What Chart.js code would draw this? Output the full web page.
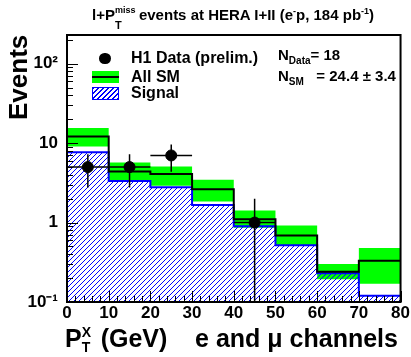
<!DOCTYPE html>
<html>
<head>
<meta charset="utf-8">
<script src="https://cdn.jsdelivr.net/npm/chart.js@4.4.1/dist/chart.umd.min.js"></script>
<style>
  body { margin: 0; background: #fff; }
  #wrap { position: relative; width: 411px; height: 357px; overflow: hidden; font-family: "Liberation Sans", Arial, Helvetica, sans-serif; font-weight: bold; color: #000; }
  #wrap canvas { position: absolute; left: 0; top: 0; }
  .t { position: absolute; white-space: nowrap; line-height: 1; }
  .st { position: relative; display: inline-block; height: 0; }
  .st span { position: absolute; left: 0; line-height: 1; }
  sup, sub { line-height: 0; }
</style>
</head>
<body>
<div id="wrap">
  <canvas id="chart" width="411" height="357"></canvas>

  <div class="t" style="left:92px; top:6.5px; font-size:15px;">l+P<span class="st" style="width:24px;"><span style="font-size:9px; top:-13.5px;">miss</span><span style="font-size:11px; top:0.5px;">T</span></span>events at HERA I+II (e<sup style="font-size:9px;">-</sup>p, 184 pb<sup style="font-size:9px;">-1</sup>)</div>

  <div class="t" style="left:5px; top:120px; font-size:26px; transform-origin:left top; transform:rotate(-90deg);">Events</div>

  <div class="t" style="left:65px; top:325.8px; font-size:25px;">P<span class="st" style="width:12px;"><span style="font-size:14px; top:-22px;">X</span><span style="font-size:14px; top:-6.8px;">T</span></span> (GeV) &nbsp;&nbsp;&nbsp;e and μ channels</div>

  <!-- legend -->
  <div style="position:absolute; left:99.3px; top:52.6px; width:11.4px; height:11.4px; border-radius:50%; background:#000;"></div>
  <div style="position:absolute; left:92px; top:71px; width:27px; height:12px; background:#00ff00;"><div style="position:absolute; left:0; top:5px; width:27px; height:2px; background:#000;"></div></div>
  <div style="position:absolute; left:92px; top:87px; width:25px; height:11px; border:1px solid #0000ff; background:repeating-linear-gradient(135deg, #0000ff 0 1px, transparent 1px 3.5px);"></div>
  <div class="t" style="left:131px; top:50.2px; font-size:16px;">H1 Data (prelim.)</div>
  <div class="t" style="left:131px; top:68.8px; font-size:16px;">All SM</div>
  <div class="t" style="left:131px; top:84.8px; font-size:16px;">Signal</div>

  <!-- numbers -->
  <div class="t" style="left:278px; top:47.3px; font-size:15px;">N<sub style="font-size:10px;">Data</sub>= 18</div>
  <div class="t" style="left:278px; top:68.1px; font-size:15px;">N<sub style="font-size:10px;">SM</sub>&nbsp;&nbsp; = 24.4 ± 3.4</div>
</div>

<script>
// bin edges in GeV, and per-bin contents
const binEdges = [0, 10, 20, 30, 40, 50, 60, 70, 80];
const smValues = [12.1, 4.4, 4.1, 2.63, 1.1, 0.69, 0.24, 0.33];
const smUpper = [15.5, 5.7, 5.07, 3.45, 1.42, 0.92, 0.30, 0.48];
const smLower = [9.06, 3.35, 2.9, 1.84, 0.86, 0.51, 0.194, 0.17];
const signalValues = [7.7, 3.35, 2.79, 1.67, 0.9, 0.52, 0.23, 0.12];
const dataCenters = [5, 15, 25, 45];
const dataCounts = [5, 5, 7, 1];
const binHalfWidth = 5;
const xTickLabels = [0, 10, 20, 30, 40, 50, 60, 70, 80];
const yTickLabels = { "0.1": "10\u207B\u00B9", "1": "1", "10": "10", "100": "10\u00B2" };

const FONT = "'Liberation Sans', Arial, Helvetica, sans-serif";
const canvas = document.getElementById("chart");
const ctx = canvas.getContext("2d");

// step-histogram points: one point per left edge, plus the last right edge
function histPoints(vals) {
  return binEdges.map((x, i) => ({ x: x, y: vals[Math.min(i, vals.length - 1)] }));
}

function makeHatch() {
  const s = 5;
  const c = document.createElement("canvas");
  c.width = s; c.height = s;
  const g = c.getContext("2d");
  g.strokeStyle = "#0000ff";
  g.lineWidth = 1;
  g.beginPath();
  g.moveTo(0, s); g.lineTo(s, 0);
  g.moveTo(-1, 1); g.lineTo(1, -1);
  g.moveTo(s - 1, s + 1); g.lineTo(s + 1, s - 1);
  g.stroke();
  return ctx.createPattern(c, "repeat");
}

// vertical and horizontal error bars under the data points
const errorBars = {
  id: "errorBars",
  beforeDatasetDraw(chart, args) {
    if (args.index !== 0) return;
    const xs = chart.scales.x, ys = chart.scales.y, a = chart.chartArea;
    const c = chart.ctx;
    c.save();
    c.beginPath();
    c.rect(a.left, a.top, a.right - a.left, a.bottom - a.top);
    c.clip();
    c.strokeStyle = "#000";
    c.lineWidth = 1.5;
    dataCenters.forEach((x, i) => {
      const n = dataCounts[i];
      const e = Math.sqrt(n);
      const px = xs.getPixelForValue(x);
      const py = ys.getPixelForValue(n);
      const top = ys.getPixelForValue(n + e);
      const bot = n - e > 0 ? ys.getPixelForValue(n - e) : a.bottom;
      c.beginPath();
      c.moveTo(px, top); c.lineTo(px, bot);
      c.moveTo(xs.getPixelForValue(x - binHalfWidth), py);
      c.lineTo(xs.getPixelForValue(x + binHalfWidth), py);
      c.stroke();
    });
    c.restore();
  }
};

// ROOT-style frame with inward ticks
const frameTicks = {
  id: "frameTicks",
  afterDatasetsDraw(chart) {
    const xs = chart.scales.x, ys = chart.scales.y, a = chart.chartArea;
    const c = chart.ctx;
    c.save();
    c.strokeStyle = "#000";
    c.lineWidth = 1;
    c.beginPath();
    for (let d = -1; d <= 2; d++) {
      for (let m = 1; m <= 9; m++) {
        const v = m * Math.pow(10, d);
        if (v < ys.min || v > ys.max) continue;
        const y = Math.round(ys.getPixelForValue(v)) + 0.5;
        c.moveTo(a.left, y);
        c.lineTo(a.left + (m === 1 ? 11 : 6), y);
      }
    }
    for (let x = 0; x <= 80; x += 2) {
      const px = Math.round(xs.getPixelForValue(x)) + 0.5;
      c.moveTo(px, a.bottom);
      c.lineTo(px, a.bottom - (x % 10 === 0 ? 11 : 6));
    }
    c.stroke();
    c.lineWidth = 2;
    c.strokeRect(a.left, a.top, a.right - a.left, a.bottom - a.top);
    c.restore();
  }
};

new Chart(ctx, {
  type: "line",
  data: {
    datasets: [
      {
        type: "scatter",
        label: "H1 Data (prelim.)",
        data: dataCenters.map((x, i) => ({ x: x, y: dataCounts[i] })),
        backgroundColor: "#000",
        borderColor: "#000",
        pointRadius: 5.5,
        showLine: false,
        order: 0
      },
      {
        label: "All SM",
        data: histPoints(smValues),
        stepped: true,
        borderColor: "#000",
        borderWidth: 2,
        pointRadius: 0,
        fill: false,
        order: 1
      },
      {
        label: "Signal",
        data: histPoints(signalValues),
        stepped: true,
        borderColor: "#0000ff",
        borderWidth: 2,
        backgroundColor: makeHatch(),
        pointRadius: 0,
        fill: "start",
        order: 2
      },
      {
        label: "SM up",
        data: histPoints(smUpper),
        stepped: true,
        borderColor: "transparent",
        borderWidth: 0,
        backgroundColor: "#00ff00",
        pointRadius: 0,
        fill: 4,
        order: 3
      },
      {
        label: "SM down",
        data: histPoints(smLower),
        stepped: true,
        borderColor: "transparent",
        borderWidth: 0,
        pointRadius: 0,
        fill: false,
        order: 4
      }
    ]
  },
  options: {
    responsive: false,
    animation: false,
    layout: { padding: { top: 35, right: 10, left: 0, bottom: 0 } },
    plugins: { legend: { display: false }, tooltip: { enabled: false } },
    scales: {
      x: {
        type: "linear",
        min: 0,
        max: 80,
        afterBuildTicks: s => { s.ticks = xTickLabels.map(v => ({ value: v })); },
        ticks: { font: { family: FONT, size: 17, weight: "bold" }, color: "#000", padding: 1, maxRotation: 0 },
        grid: { display: false, drawTicks: false },
        border: { display: false },
        afterFit: s => { s.height = 55; }
      },
      y: {
        type: "logarithmic",
        min: 0.1,
        max: 230,
        afterBuildTicks: s => { s.ticks = Object.keys(yTickLabels).map(v => ({ value: Number(v) })); },
        ticks: {
          font: { family: FONT, size: 17, weight: "bold" },
          color: "#000",
          padding: 9,
          callback: v => yTickLabels[String(v)] || ""
        },
        grid: { display: false, drawTicks: false },
        border: { display: false },
        afterFit: s => { s.width = 67; }
      }
    }
  },
  plugins: [errorBars, frameTicks]
});
</script>
</body>
</html>
